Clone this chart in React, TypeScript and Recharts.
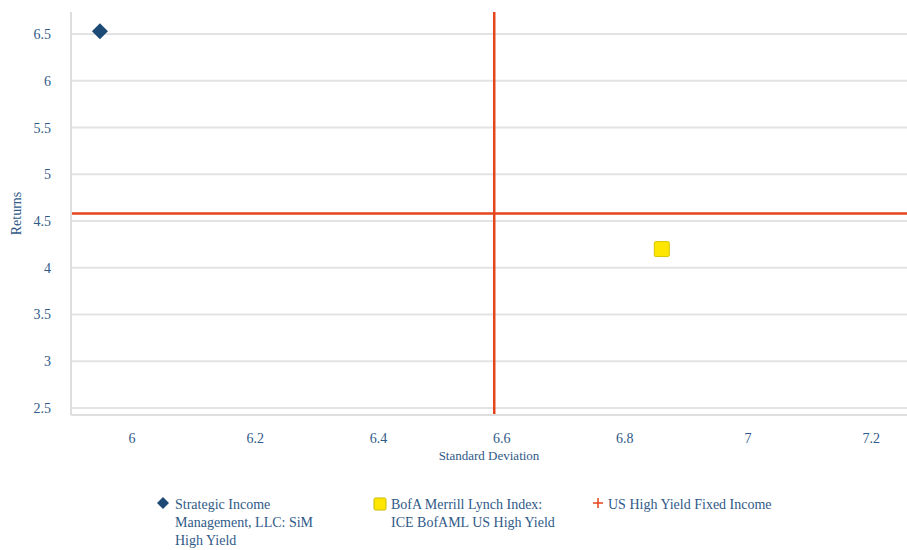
import React from "react";
import {
  ScatterChart,
  Scatter,
  XAxis,
  YAxis,
  ReferenceLine,
} from "recharts";

const xTicks = [6, 6.2, 6.4, 6.6, 6.8, 7, 7.2];
const yTicks = [2.5, 3, 3.5, 4, 4.5, 5, 5.5, 6, 6.5];

const simPoint = [{ sd: 5.948, ret: 6.53 }];
const indexPoint = [{ sd: 6.86, ret: 4.2 }];
const usHighYield = { sd: 6.588, ret: 4.58 };

const legendLabels = [
  "Strategic Income Management, LLC: SiM High Yield",
  "BofA Merrill Lynch Index: ICE BofAML US High Yield",
  "US High Yield Fixed Income",
];

const TEXT = "#2f5a88";
const FONT = "Liberation Serif";
const RED = "#e5451d";
const GRID = "#e3e3e3";

// eslint-disable-next-line @typescript-eslint/no-explicit-any
function Diamond({ cx, cy }: any) {
  const r = 8;
  return (
    <path
      d={`M${cx},${cy - r} L${cx + r},${cy} L${cx},${cy + r} L${cx - r},${cy} Z`}
      fill="#1d4a74"
    />
  );
}

// eslint-disable-next-line @typescript-eslint/no-explicit-any
function Square({ cx, cy }: any) {
  const s = 15;
  return (
    <rect
      x={cx - s / 2}
      y={cy - s / 2}
      width={s}
      height={s}
      rx={1.5}
      fill="#ffe600"
      stroke="#d8c600"
      strokeWidth={1}
    />
  );
}

export default function App() {
  const tick = { fontSize: 14, fill: TEXT, fontFamily: FONT };
  return (
    <div style={{ position: "absolute", left: 0, top: 0, width: 907, height: 550, background: "#fff", fontFamily: FONT }}>
      <ScatterChart width={907} height={480} margin={{ top: 12, right: 0, bottom: 17, left: 16 }}>
        {/* horizontal gridlines at the tick values only */}
        {yTicks.map((t) => (
          <ReferenceLine key={t} y={t} stroke={GRID} strokeWidth={2} />
        ))}
        <XAxis
          type="number"
          dataKey="sd"
          domain={[5.901, 7.258]}
          ticks={xTicks}
          allowDataOverflow
          tick={tick}
          tickLine={false}
          axisLine={{ stroke: "#dedede", strokeWidth: 2 }}
          tickMargin={12}
          height={48}
          label={{ value: "Standard Deviation", position: "insideBottom", offset: 3, fill: TEXT, fontSize: 13, fontFamily: FONT }}
        />
        <YAxis
          type="number"
          dataKey="ret"
          domain={[2.425, 6.736]}
          ticks={yTicks}
          allowDataOverflow
          tick={tick}
          tickLine={false}
          axisLine={{ stroke: "#dedede", strokeWidth: 2 }}
          tickMargin={14}
          width={55}
          label={{ value: "Returns", angle: -90, position: "insideLeft", offset: 0, fill: TEXT, fontSize: 14, fontFamily: FONT, style: { textAnchor: "middle" } }}
        />
        <ReferenceLine x={usHighYield.sd} stroke={RED} strokeWidth={2.5} />
        <ReferenceLine y={usHighYield.ret} stroke={RED} strokeWidth={2.5} />
        <Scatter data={simPoint} shape={<Diamond />} isAnimationActive={false} />
        <Scatter data={indexPoint} shape={<Square />} isAnimationActive={false} />
      </ScatterChart>
      <div
        style={{
          position: "absolute",
          top: 496,
          left: 0,
          width: 907,
          fontFamily: FONT,
          fontSize: 14,
          lineHeight: "18px",
          color: TEXT,
        }}
      >
        <div style={{ position: "absolute", left: 156, width: 165, display: "flex" }}>
          <svg width={14} height={14} style={{ marginTop: 1, marginRight: 5, flexShrink: 0 }}>
            <path d="M7,0 L13,6 L7,12 L1,6 Z" fill="#1d4a74" />
          </svg>
          <span style={{ width: 142 }}>{legendLabels[0]}</span>
        </div>
        <div style={{ position: "absolute", left: 373, width: 200, display: "flex" }}>
          <svg width={14} height={14} style={{ marginTop: 1, marginRight: 4, flexShrink: 0 }}>
            <rect x={1} y={1} width={12} height={12} rx={1.5} fill="#ffe600" stroke="#c9b800" />
          </svg>
          <span style={{ width: 175 }}>{legendLabels[1]}</span>
        </div>
        <div style={{ position: "absolute", left: 592, width: 260, display: "flex" }}>
          <svg width={14} height={14} style={{ marginTop: 1, marginRight: 2, flexShrink: 0 }}>
            <path d="M6,1 L6,11 M1,6 L11,6" stroke={RED} strokeWidth={1.5} />
          </svg>
          <span>{legendLabels[2]}</span>
        </div>
      </div>
    </div>
  );
}
